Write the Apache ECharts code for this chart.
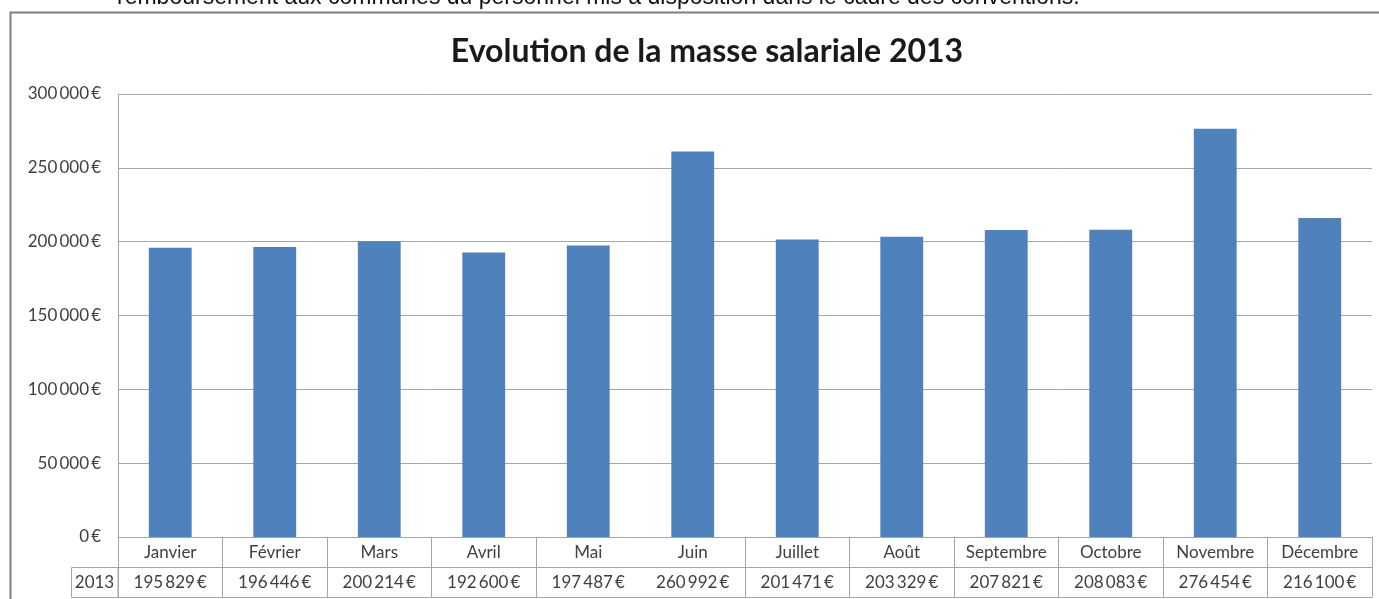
<!DOCTYPE html>
<html>
<head>
<meta charset="utf-8">
<script src="https://cdn.jsdelivr.net/npm/echarts@6/dist/echarts.min.js"></script>
<style>
html,body{margin:0;padding:0;background:#fff;}
#main{width:1379px;height:599px;}
</style>
</head>
<body>
<div id="main"></div>
<script>
const categories = ['Janvier','Février','Mars','Avril','Mai','Juin','Juillet','Août','Septembre','Octobre','Novembre','Décembre'];
const values2013 = [195829,196446,200214,192600,197487,260992,201471,203329,207821,208083,276454,216100];
const seriesName = '2013';
const yTicks = { min: 0, max: 300000, interval: 50000 };
const titleText = 'Evolution de la masse salariale 2013';
const topText = 'remboursement aux communes du personnel mis à disposition dans le cadre des conventions.';

function fmt(v){
  const s = String(Math.round(v));
  return s.replace(/\B(?=(\d{3})+(?!\d))/g, '\u2009') + '\u2009€';
}

const font = 'Lato, "Open Sans", sans-serif';
const gridCol = '#a6a6a6';
const txtCol = '#404040';

const chart = echarts.init(document.getElementById('main'), null, {renderer:'canvas'});
chart.setOption({
  animation: false,
  backgroundColor: '#fff',
  title: {
    text: titleText,
    left: 702, top: 31, textAlign: 'center',
    textStyle: { fontFamily: font, fontWeight: 'bold', fontSize: 32, color: '#1a1a1a' }
  },
  grid: { left: 118, right: 7, top: 94, bottom: 62, containLabel: false },
  xAxis: [
    {
      type: 'category', data: categories, position: 'bottom',
      axisLine: { show: true, lineStyle: { color: gridCol, width: 1 } },
      axisTick: { show: true, length: 30, interval: (i) => i !== 5, lineStyle: { color: gridCol } },
      axisLabel: { margin: 7, fontFamily: font, fontSize: 17, color: txtCol, interval: 0 },
      splitLine: { show: false }
    },
    {
      type: 'category', data: categories, position: 'bottom', offset: 30,
      axisLine: { show: true, lineStyle: { color: gridCol, width: 1 } },
      axisTick: { show: true, length: 30, interval: (i) => i !== 5, lineStyle: { color: gridCol } },
      axisLabel: { margin: 7, fontFamily: font, fontSize: 17, color: txtCol, interval: 0,
        formatter: (v, i) => fmt(values2013[i]) },
      splitLine: { show: false }
    },
    {
      type: 'category', data: categories, position: 'bottom', offset: 60,
      axisLine: { show: true, lineStyle: { color: gridCol, width: 1 } },
      axisTick: { show: false }, axisLabel: { show: false }, splitLine: { show: false }
    }
  ],
  yAxis: {
    type: 'value', min: yTicks.min, max: yTicks.max, interval: yTicks.interval,
    axisLine: { show: true, lineStyle: { color: gridCol } },
    axisTick: { show: false },
    axisLabel: { margin: 17, fontFamily: font, fontSize: 17, color: txtCol, formatter: (v) => fmt(v) },
    splitLine: { show: true, lineStyle: { color: gridCol, width: 1 } }
  },
  series: [{
    name: seriesName, type: 'bar', data: values2013, xAxisIndex: 0,
    barWidth: '41%',
    itemStyle: { color: '#4f81bd' }
  }],
  graphic: [
    { type: 'text', left: 117, top: -14, style: { text: topText, font: '23px "Liberation Sans", Arial, sans-serif', fill: '#111' }, z: 10 },
    { type: 'rect', shape: { x: 10.5, y: 12.5, width: 1400, height: 700 }, style: { fill: 'none', stroke: '#7f7f7f', lineWidth: 2 }, z: -1 },
    { type: 'rect', shape: { x: 71.5, y: 567.5, width: 46.5, height: 30 }, style: { fill: 'none', stroke: gridCol, lineWidth: 1 } },
    { type: 'text', x: 94.5, y: 582.5, style: { text: seriesName, font: '17px ' + font, fill: txtCol, align: 'center', verticalAlign: 'middle' } }
  ]
});
</script>
</body>
</html>
